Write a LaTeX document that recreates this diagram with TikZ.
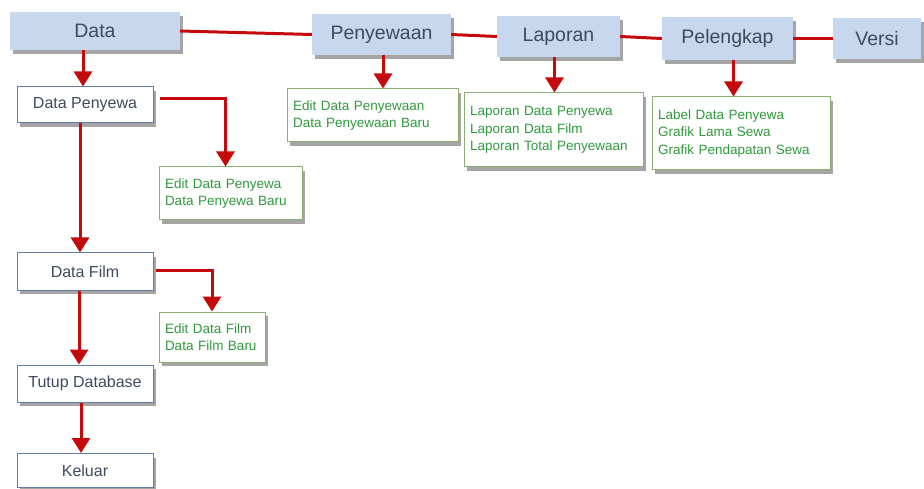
\documentclass[tikz,border=0pt]{standalone}
\usepackage{fontspec}
\setmainfont{Liberation Sans}
\usetikzlibrary{shadows,arrows.meta}
\definecolor{topfill}{HTML}{C6D7EE}
\definecolor{toptext}{HTML}{3E4B5E}
\definecolor{boxborder}{HTML}{5E7DA8}
\definecolor{greenborder}{HTML}{8AAE74}
\definecolor{greentext}{HTML}{2F9A3C}
\definecolor{conn}{HTML}{C40A0A}
\tikzset{
  shad/.style={drop shadow={shadow xshift=3pt,shadow yshift=-4pt,fill=black!70,opacity=0.5}},
  topbox/.style={shad,fill=topfill,draw=none,text=toptext,inner sep=0pt,
    font=\fontsize{19.5}{22}\selectfont},
  menubox/.style={shad,fill=white,draw=boxborder,line width=1pt,text=toptext,inner sep=0pt,
    minimum width=136pt,minimum height=36pt,font=\fontsize{16}{19}\selectfont},
  subbox/.style={shad,fill=white,draw=greenborder,line width=1pt,text=greentext,
    inner xsep=6pt,inner ysep=0pt,align=left,font=\fontsize{13.5}{17.5}\selectfont},
  link/.style={draw=conn,line width=3pt},
  arr/.style={draw=conn,line width=3pt,-{Triangle[width=18pt,length=15pt]}}
}
\begin{document}
\begin{tikzpicture}[x=1pt,y=-1pt]
\useasboundingbox (0,0) rectangle (924,489);
% top row
\node[topbox,minimum width=170pt,minimum height=38pt] (data) at (95,31) {Data};
\node[topbox,minimum width=139pt,minimum height=41pt] (peny) at (381.5,34.5) {Penyewaan};
\node[topbox,minimum width=123pt,minimum height=41pt] (lap) at (558.5,36.5) {Laporan};
\node[topbox,minimum width=131pt,minimum height=43pt] (pel) at (727.5,38.5) {Pelengkap};
\node[topbox,minimum width=88pt,minimum height=41pt] (ver) at (877,38.5) {Versi};
% left column
\node[menubox] (dpen) at (85,105) {Data Penyewa};
\node[menubox,minimum height=37pt] (dfilm) at (85,271.5) {Data Film};
\node[menubox,minimum height=37pt] (tutup) at (85,383.5) {Tutup Database};
\node[menubox,minimum height=34pt] (keluar) at (85,470.5) {Keluar};
% sub boxes
\node[subbox,text width=131pt,minimum height=53pt] (edp) at (230.5,193.5) {Edit Data Penyewa\\Data Penyewa Baru};
\node[subbox,text width=94pt,minimum height=50pt] (edf) at (212,337) {Edit Data Film\\Data Film Baru};
\node[subbox,text width=159pt,minimum height=53pt] (ep) at (372.5,115.5) {Edit Data Penyewaan\\Data Penyewaan Baru};
\node[subbox,text width=167pt,minimum height=74pt] (el) at (553.5,130) {Laporan Data Penyewa\\Laporan Data Film\\Laporan Total Penyewaan};
\node[subbox,text width=166pt,minimum height=73pt] (epl) at (741,133.5) {Label Data Penyewa\\Grafik Lama Sewa\\Grafik Pendapatan Sewa};
% top links
\draw[link] (data.east) -- (peny.west);
\draw[link] (peny.east) -- (lap.west);
\draw[link] (lap.east) -- (pel.west);
\draw[link] (pel.east) -- (ver.west);
% arrows
\draw[arr] ([xshift=-2pt]dpen.north |- data.south) -- ([xshift=-2pt]dpen.north);
\draw[arr] ([xshift=-5pt]dpen.south) -- ([xshift=-5pt]dfilm.north);
\draw[arr,shorten <=6pt] ([yshift=6pt]dpen.east) -| ([xshift=-5pt]edp.north);
\draw[arr,shorten <=2pt] ([yshift=1pt]dfilm.east) -| (edf.north);
\draw[arr] ([xshift=-6pt]dfilm.south) -- ([xshift=-6pt]tutup.north);
\draw[arr] ([xshift=-4pt]tutup.south) -- ([xshift=-4pt]keluar.north);
\draw[arr] ([xshift=1.5pt]peny.south) -- ([xshift=1.5pt]peny.south |- ep.north);
\draw[arr] ([xshift=-4pt]lap.south) -- ([xshift=-4pt]lap.south |- el.north);
\draw[arr] ([xshift=6pt]pel.south) -- ([xshift=6pt]pel.south |- epl.north);
\end{tikzpicture}
\end{document}
